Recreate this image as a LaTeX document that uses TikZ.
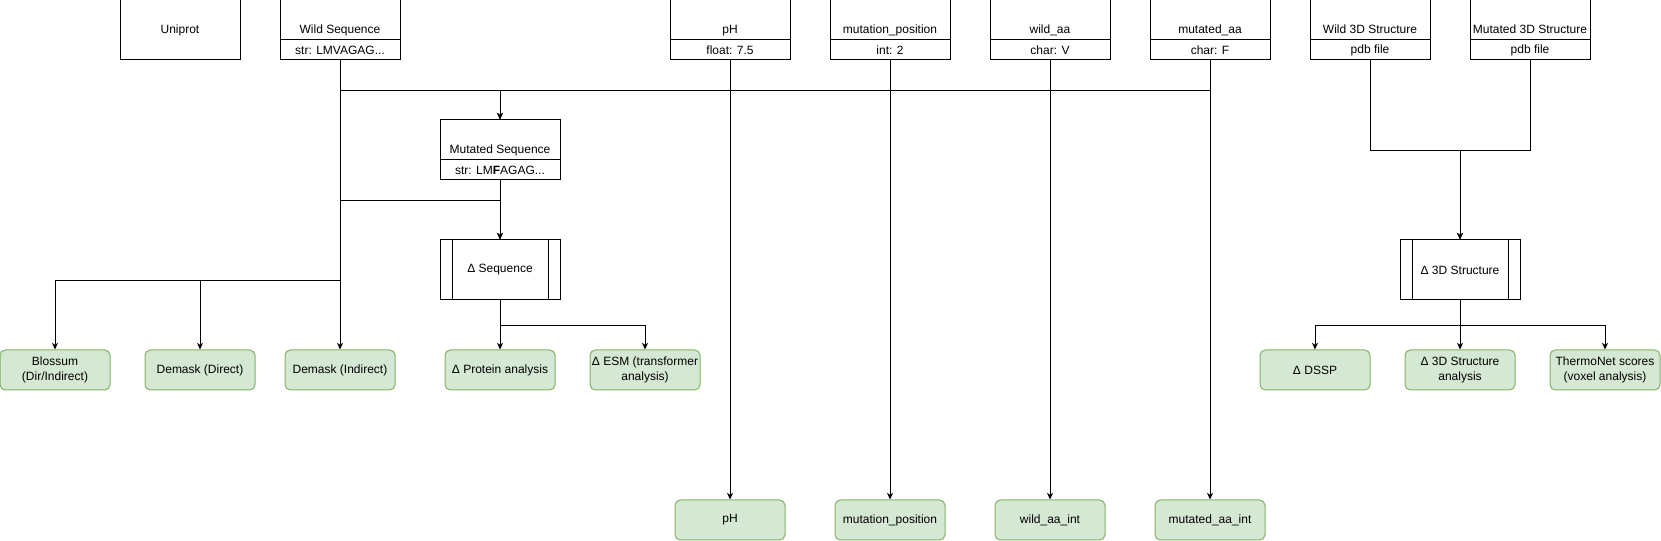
\documentclass[tikz,border=0pt]{standalone}
\usepackage{fontspec}
\setmainfont{Liberation Sans}
\usepackage{xcolor}
\usetikzlibrary{arrows.meta}
\definecolor{resfill}{HTML}{D5E8D4}
\definecolor{resdraw}{HTML}{82B366}

\begin{document}
\begin{tikzpicture}[x=0.75pt,y=-0.75pt,
					line width=0.75pt,
					font=\fontsize{9pt}{10.8pt}\selectfont,
					arr/.style={-{Stealth[length=5pt,width=4.5pt,inset=1.5pt]}},
					plain node/.style={draw,minimum width=90pt,minimum height=45pt,inner sep=0pt},
					head node/.style={draw,minimum width=90pt,minimum height=30pt,inner sep=0pt,
						text height=22pt,text depth=2pt},
					value node/.style={draw,minimum width=90pt,minimum height=15pt,inner sep=0pt},
					proc node/.style={plain node,
						path picture={
							\draw ([xshift=9pt]path picture bounding box.north west) -- ([xshift=9pt]path picture bounding box.south west);
							\draw ([xshift=-9pt]path picture bounding box.north east) -- ([xshift=-9pt]path picture bounding box.south east);}},
					result node/.style={draw=resdraw,fill=resfill,rounded corners=4pt,
						minimum width=82.5pt,minimum height=30pt,inner sep=0pt,align=center}]

  \useasboundingbox (0,0) rectangle (1661,541);

  % inputs
  \node[plain node] (uniprot) at (180,30) {Uniprot};
  \node[head node] (wildseqh) at (340,20) {Wild Sequence};
  \node[value node] (wildseqv) at (340,50) {str: LMVAGAG...};
  \node[head node] (phh) at (730,20) {pH};
  \node[value node] (phv) at (730,50) {float: 7.5};
  \node[head node] (mutposh) at (890,20) {mutation\_position};
  \node[value node] (mutposv) at (890,50) {int: 2};
  \node[head node] (wildaah) at (1050,20) {wild\_aa};
  \node[value node] (wildaav) at (1050,50) {char: V};
  \node[head node] (mutaah) at (1210,20) {mutated\_aa};
  \node[value node] (mutaav) at (1210,50) {char: F};
  \node[head node] (wild3dh) at (1370,20) {Wild 3D Structure};
  \node[value node] (wild3dv) at (1370,50) {pdb file};
  \node[head node] (mut3dh) at (1530,20) {Mutated 3D Structure};
  \node[value node] (mut3dv) at (1530,50) {pdb file};

  \node[head node] (mutseqh) at (500,140) {Mutated Sequence};
  \node[value node] (mutseqv) at (500,170) {str: LM\textbf{F}AGAG...};

  \node[proc node] (dseq) at (500,270) {Δ Sequence};
  \node[proc node] (d3d) at (1460,270) {Δ 3D Structure};

  % features
  \node[result node] (blossum) at (55,370) {Blossum\\(Dir/Indirect)};
  \node[result node] (demaskd) at (200,370) {Demask (Direct)};
  \node[result node] (demaski) at (340,370) {Demask (Indirect)};
  \node[result node] (dprot) at (500,370) {Δ Protein analysis};
  \node[result node] (desm) at (645,370) {Δ ESM (transformer\\analysis)};
  \node[result node] (ddssp) at (1315,370) {Δ DSSP};
  \node[result node] (d3dana) at (1460,370) {Δ 3D Structure\\analysis};
  \node[result node] (thermo) at (1605,370) {ThermoNet scores\\(voxel analysis)};

  \node[result node] (phout) at (730,520) {pH};
  \node[result node] (mutposout) at (890,520) {mutation\_position};
  \node[result node] (wildaaout) at (1050,520) {wild\_aa\_int};
  \node[result node] (mutaaout) at (1210,520) {mutated\_aa\_int};

  \draw[arr] (wildseqv.south) -- ++(0,30) -| (mutseqh.north);
  \draw[arr] (mutaav.south) -- ++(0,30) -| (mutseqh.north);
  \draw[arr] (wildseqv.south) -- ++(0,140) -| (dseq.north);
  \draw[arr] (mutseqv.south) -- (dseq.north);
  \draw[arr] (wildseqv.south) -- ++(0,220) -| (blossum.north);
  \draw[arr] (wildseqv.south) -- ++(0,220) -| (demaskd.north);
  \draw[arr] (wildseqv.south) -- (demaski.north);
  \draw[arr] (dseq.south) -- (dprot.north);
  \draw[arr] (dseq.south) -- ++(0,25) -| (desm.north);

  \draw[arr] (phv.south) -- (phout.north);
  \draw[arr] (mutposv.south) -- (mutposout.north);
  \draw[arr] (wildaav.south) -- (wildaaout.north);
  \draw[arr] (mutaav.south) -- (mutaaout.north);

  \draw[arr] (wild3dv.south) -- ++(0,90) -| (d3d.north);
  \draw[arr] (mut3dv.south) -- ++(0,90) -| (d3d.north);
  \draw[arr] (d3d.south) -- ++(0,25) -| (ddssp.north);
  \draw[arr] (d3d.south) -- (d3dana.north);
  \draw[arr] (d3d.south) -- ++(0,25) -| (thermo.north);
\end{tikzpicture}
\end{document}
